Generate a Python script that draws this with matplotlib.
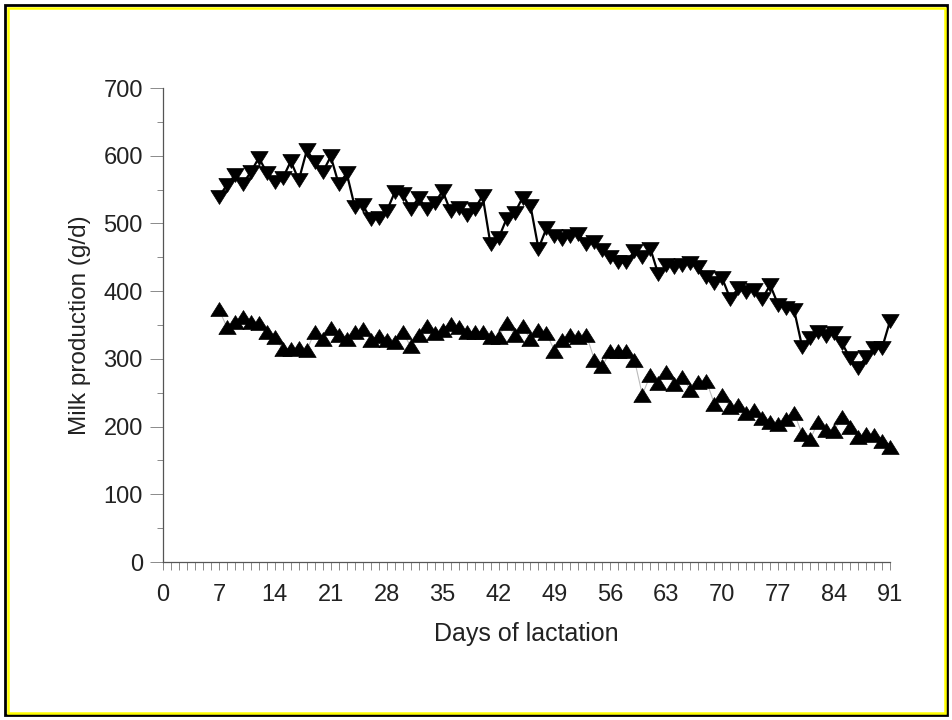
"""Milk production over days of lactation (two groups, triangle markers)."""

import matplotlib

matplotlib.use("Agg")
import matplotlib.pyplot as plt
from matplotlib.patches import Rectangle
from matplotlib.ticker import MultipleLocator

plt.rcParams["font.family"] = ["Liberation Sans", "DejaVu Sans"]

days = list(range(7, 92))

# upper group (down triangles, solid black line)
upper = [
    539, 557, 571, 559, 576, 597, 575, 561, 567, 592,
    564, 608, 591, 576, 599, 558, 574, 525, 527, 507,
    508, 518, 546, 543, 521, 538, 521, 530, 548, 518,
    523, 512, 521, 541, 469, 478, 507, 515, 538, 526,
    463, 493, 482, 477, 482, 485, 469, 472, 461, 451,
    443, 443, 459, 451, 463, 425, 438, 436, 439, 441,
    436, 421, 412, 419, 389, 404, 399, 402, 389, 409,
    380, 375, 372, 318, 331, 339, 334, 338, 323, 301,
    286, 303, 316, 316, 356,
]

# lower group (up triangles, faint grey line)
lower = [
    373, 347, 355, 362, 355, 353, 340, 332, 314, 314,
    316, 313, 340, 330, 345, 335, 329, 339, 344, 328,
    334, 328, 325, 339, 319, 335, 348, 338, 343, 352,
    347, 340, 340, 340, 333, 332, 353, 335, 348, 329,
    343, 338, 312, 328, 335, 333, 335, 299, 290, 311,
    311, 312, 299, 247, 276, 264, 281, 263, 274, 254,
    266, 268, 234, 247, 229, 232, 220, 224, 212, 207,
    204, 211, 220, 189, 181, 207, 195, 194, 214, 200,
    185, 189, 188, 179, 170,
]

# slightly squat triangles, like the scanned figure
tri_down = [(-1, 0.8), (1, 0.8), (0, -0.8), (-1, 0.8)]
tri_up = [(-1, -0.8), (1, -0.8), (0, 0.8), (-1, -0.8)]

fig = plt.figure(figsize=(9.52, 7.2), dpi=100)
ax = fig.add_axes([0.1712, 0.2194, 0.7637, 0.6583])

ax.plot(days, lower, color="#bbbbbb", lw=0.8, zorder=2, clip_on=False)
ax.plot(days, lower, ls="none", marker=tri_up, ms=12.5, color="black",
        mec="black", mew=0.5, zorder=3, clip_on=False)
ax.plot(days, upper, color="black", lw=1.6, marker=tri_down, ms=12.5,
        mec="black", mew=0.5, zorder=4, clip_on=False)

ax.set_xlim(0, 91)
ax.set_ylim(0, 700)
ax.xaxis.set_major_locator(MultipleLocator(7))
ax.xaxis.set_minor_locator(MultipleLocator(1))
ax.yaxis.set_major_locator(MultipleLocator(100))
ax.yaxis.set_minor_locator(MultipleLocator(50))

for side in ("top", "right"):
    ax.spines[side].set_visible(False)
for side in ("left", "bottom"):
    ax.spines[side].set_color("#555555")
    ax.spines[side].set_linewidth(0.9)

ax.tick_params(axis="x", which="both", direction="out", length=6, width=0.6,
               color="#777777", pad=10, labelsize=17, labelcolor="#222222")
ax.tick_params(axis="y", which="major", direction="out", length=9.5, width=0.6,
               color="#777777", pad=5, labelsize=17, labelcolor="#222222")
ax.tick_params(axis="y", which="minor", direction="out", length=4.5, width=0.6,
               color="#777777")

ax.set_xlabel("Days of lactation", fontsize=18, color="#222222", labelpad=11)
ax.set_ylabel("Milk production (g/d)", fontsize=17.5, color="#222222", labelpad=9)

# black + yellow picture frame
fig.patches.append(Rectangle((5 / 952, 5 / 720), 942 / 952, 710 / 720,
                             transform=fig.transFigure, fill=False,
                             edgecolor="black", lw=2.0))
fig.patches.append(Rectangle((7.5 / 952, 7.5 / 720), 937 / 952, 705 / 720,
                             transform=fig.transFigure, fill=False,
                             edgecolor="#ffff00", lw=1.8))

fig.savefig("out.png", dpi=100)
plt.close(fig)
